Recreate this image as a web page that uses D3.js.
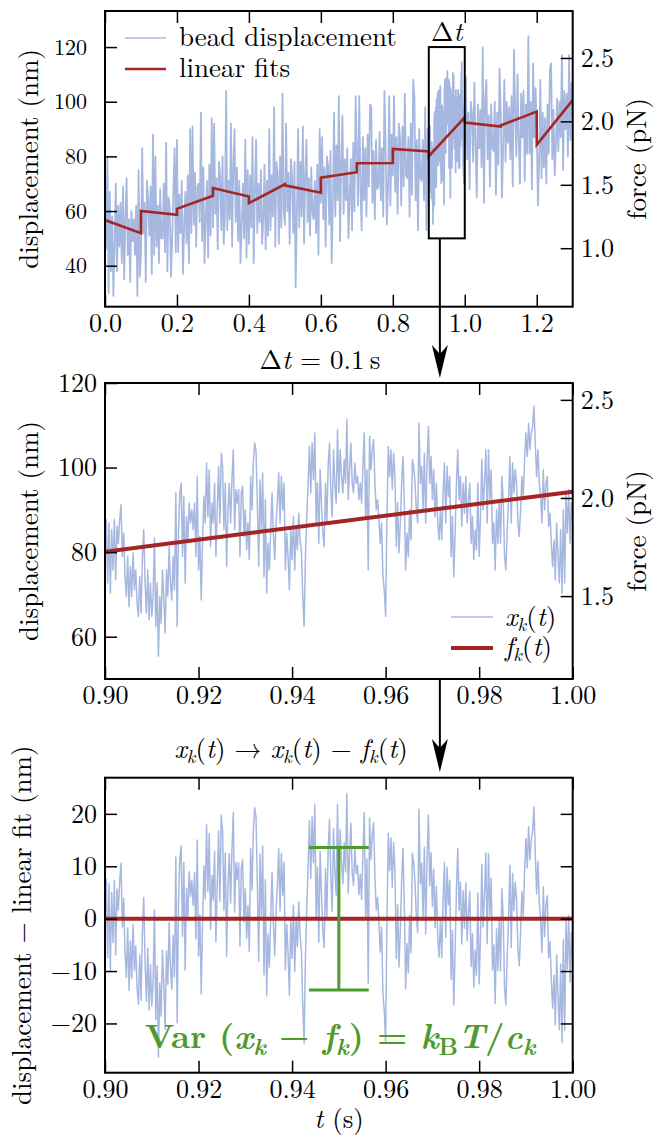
<!DOCTYPE html>
<html><head><meta charset="utf-8">
<script src="https://cdn.jsdelivr.net/npm/d3@7"></script>
<style>body{margin:0;background:#fff} text{font-family:'Latin Modern Roman','Times'}</style>
</head><body>
<svg id="c" width="661" height="1147"></svg>
<script>
// ---------------- DATA ----------------
// overview trace, 0 … 0.8967 s, six readings per 20 ms (nm)
const topStep = 0.02 / 6;
const topTraceA = [
 61,46,80,30,67,38, 58,29,48,70,38,62, 47,63,41,69,35,58, 72,44,57,34,60,49, 57,44,62,29,75,36,
 44,83,52,63,34,71, 64,51,69,37,88,44, 80,47,62,41,68,50, 50,70,45,85,38,65, 62,36,49,67,83,45,
 86,45,66,52,71,37, 54,67,48,73,41,90, 52,91,55,74,47,69, 70,56,96,49,76,41, 57,71,43,77,51,94,
 54,92,59,72,46,78, 73,53,80,48,58,104, 53,71,57,92,47,77, 90,56,76,49,71,41, 55,70,50,86,43,75,
 48,73,54,87,41,68, 86,52,70,56,75,48, 57,77,46,71,51,90, 53,73,58,98,47,78, 74,48,80,54,103,60,
 55,92,60,74,48,79, 73,52,78,32,59,90, 54,78,58,91,48,73, 86,56,72,51,76,59, 57,71,52,77,44,90,
 63,87,57,76,47,80, 77,55,82,41,63,96, 58,84,64,102,49,78, 95,59,79,64,83,50, 65,79,53,85,60,102,
 82,62,102,68,53,87, 64,83,58,88,69,99, 98,63,82,57,86,68, 69,89,64,83,58,104, 83,55,68,102,62,88,
 73,102,67,87,59,92, 87,62,91,69,103,73, 72,87,58,92,66,108, 102,64,86,53,90,72, 71,86,64,98,53,90
];
// overview trace, 1.0 … 1.3 s, six readings per 20 ms (nm)
const topTraceB = [
 84,109,79,96,68,100, 96,78,107,84,65,99, 83,97,76,120,63,101, 108,79,95,69,99,83, 82,100,66,96,77,112,
 96,65,84,108,78,100, 85,98,79,102,69,119, 98,80,110,86,70,103, 87,104,71,99,81,124, 81,100,68,114,87,105,
 91,62,78,108,72,96, 76,94,70,99,81,112, 114,79,97,73,84,101, 82,100,87,117,75,104, 90,103,80,117,86,107, 95
];
// zoomed trace x_k(t), 0.90 … 1.00 s, 351 samples (nm)
const zoomStart = 0.9, zoomStep = 0.1 / 350;
const zoomDisplacement = [
 80.2,87.7,72.7,86.9,70.3,85.3,75.8,87.7,73.5,86.1,
 82.1,87.7,91.2,79.0,84.5,74.2,69.5,79.0,67.1,76.6,
 69.5,79.8,71.1,75.8,67.9,64.8,74.2,65.6,79.0,85.3,
 72.7,65.6,75.8,64.0,72.7,64.8,69.5,83.3,62.4,72.7,
 55.3,69.5,63.2,75.8,69.5,60.8,75.8,69.5,81.3,72.7,
 68.7,79.0,71.1,94.0,62.4,85.3,94.0,96.3,79.0,93.2,
 72.7,88.4,82.9,91.6,86.9,90.0,85.3,91.6,79.0,97.9,
 75.8,83.7,68.7,82.1,93.2,86.9,101.1,88.4,99.5,81.3,
 91.6,86.9,96.3,79.0,90.0,100.3,86.9,103.4,100.3,85.3,
 96.3,76.6,90.0,96.3,86.9,97.1,104.2,85.3,94.8,91.6,
 94.8,79.0,94.0,95.5,83.7,90.0,80.6,86.9,78.2,97.9,
 90.0,101.1,105.8,104.2,91.6,76.6,97.1,85.3,98.7,74.2,
 92.4,
 70.3,82.1,75.8,85.3,94.0,84.5,78.2,86.9,91.6,98.7,
 86.9,97.9,90.0,96.3,75.8,84.5,79.0,71.1,85.3,78.2,
 88.4,75.8,86.1,80.6,89.2,82.9,79.8,69.5,62.4,79.0,
 88.4,96.3,105.0,94.0,105.8,97.1,108.2,86.9,96.3,82.1,
 99.5,91.6,84.5,81.3,96.3,86.9,100.3,105.8,94.8,88.4,
 104.2,96.3,91.6,109.0,94.0,104.2,97.9,94.0,101.9,96.3,
 111.3,92.4,99.5,105.8,96.3,94.0,101.1,96.3,97.9,92.4,
 96.3,91.6,100.3,108.2,88.4,99.5,75.8,107.4,99.5,104.2,
 106.6,96.3,90.0,92.4,87.7,82.1,86.9,74.2,71.1,64.8,
 88.4,105.0,97.9,104.2,94.8,103.4,97.9,81.3,91.6,79.8,
 86.9,96.3,102.6,91.6,75.8,84.5,79.0,90.0,82.9,101.9,
 100.3,96.3,90.0,86.9,110.5,96.3,
 100.3,90.0,103.4,86.9,101.1,109.7,96.3,102.6,92.4,99.5,
 88.4,96.3,86.9,82.9,90.0,82.9,94.0,101.1,86.9,100.3,
 93.2,97.9,79.0,88.4,74.2,84.5,96.3,104.2,92.4,97.9,
 86.1,96.3,89.2,97.9,86.9,92.4,96.3,82.1,88.4,78.2,
 85.3,80.6,96.3,79.0,88.4,101.9,90.0,96.3,104.2,86.9,
 104.2,92.4,99.5,82.1,86.9,75.8,90.0,82.1,92.4,82.1,
 97.9,92.4,79.0,75.8,85.3,92.4,102.6,86.9,101.1,94.0,
 99.5,96.3,86.9,83.7,90.0,97.9,93.2,101.9,108.2,102.6,
 110.5,104.2,108.2,109.7,114.5,105.8,97.9,104.2,96.3,93.2,
 86.9,99.5,90.0,96.3,97.9,86.1,89.2,82.1,76.6,82.9,
 73.5,86.9,79.0,72.7,85.3,70.3,90.0,72.7,94.0,84.5,
 94.8,82.1,91.6,86.9
];
// piecewise linear fits (one per 0.1 s window)
const fitWindowStarts = [0,0.1,0.2,0.3,0.4,0.5,0.6,0.7,0.8,0.9,1.0,1.1,1.2];
const fitStartValues  = [56.7,60.0,60.8,68.4,62.9,69.4,72.2,77.5,82.7,80.1,92.4,91.3,84.2];
const fitEndValues    = [51.9,58.6,65.6,65.3,69.8,66.7,74.2,77.6,81.8,94.3,90.9,96.4,100.6];
const fitWindow = 0.1;
const zoomFitIndex = 9;
const forcePerNm = 0.02155;          // pN per nm (right axis)
const topDispDomain  = [25, 133.2];
const zoomDispDomain = [50, 120];
const residDomain    = [-29.4, 26.9];
const topXTicks  = [0,0.2,0.4,0.6,0.8,1.0,1.2];
const topYTicks  = [40,60,80,100,120];
const topFTicks  = [1.0,1.5,2.0,2.5];
const zoomXTicks = [0.90,0.92,0.94,0.96,0.98,1.00];
const zoomYTicks = [60,80,100,120];
const zoomFTicks = [1.5,2.0,2.5];
const residTicks = [-20,-10,0,10,20];
const varianceHalfWidth = 13.6;   // nm
const varianceTime = 0.95;
const capHalf = 0.0064;

// ---------------- DRAWING ----------------
const W=661,H=1147;
const SERIF="'Latin Modern Roman','Times'";
const BLUE='#a7b8e0', RED='#a52525', GREEN='#4f9a2d';
const svg=d3.select('#c');
svg.append('rect').attr('width',W).attr('height',H).attr('fill','#fff');
const L=105, R=572.7;
const P={top:[11,306.7], mid:[383,679], bot:[777.7,1072.7]};

const xT=d3.scaleLinear([0,1.3],[L,R]);
const yT=d3.scaleLinear(topDispDomain,[P.top[1],P.top[0]]);
const fT=d3.scaleLinear(topDispDomain.map(v=>v*forcePerNm),[P.top[1],P.top[0]]);
const xM=d3.scaleLinear([0.9,1.0],[L,R]);
const yM=d3.scaleLinear(zoomDispDomain,[P.mid[1],P.mid[0]]);
const fM=d3.scaleLinear(zoomDispDomain.map(v=>v*forcePerNm),[P.mid[1],P.mid[0]]);
const xB=d3.scaleLinear([0.9,1.0],[L,R]);
const yB=d3.scaleLinear(residDomain,[P.bot[1],P.bot[0]]);

const defs=svg.append('defs');
Object.entries(P).forEach(([k,[a,b]])=>{
  defs.append('clipPath').attr('id','clip-'+k).append('rect')
    .attr('x',L).attr('y',a).attr('width',R-L).attr('height',b-a);
});

function rich(g,x,y,parts,o){
  const size=o.size;
  const t=g.append('text').attr('x',x).attr('y',y).attr('xml:space','preserve')
    .style('font-family',SERIF).attr('font-size',size).attr('text-anchor',o.anchor||'start')
    .attr('fill',o.fill||'#000').attr('font-weight',o.weight||'normal');
  let shift=0;
  parts.forEach(p=>{
    const target=p.sub? size*0.2:0;
    const ts=t.append('tspan').text(p.t).attr('dy',target-shift);
    shift=target;
    if(p.sub) ts.attr('font-size',size*0.7);
    if(p.i) ts.attr('font-style','italic');
  });
  return t;
}
function styleAxis(g,fs){
  g.select('.domain').remove();
  g.attr('font-size',fs).attr('font-family',null);
  g.selectAll('line').attr('stroke','#000').attr('stroke-width',1.5);
  g.selectAll('text').attr('fill','#000').style('font-family',SERIF);
}
function axes(xs,ys,yTicks,yFmt,xTicks,xFmt,y0,y1,opt){
  svg.append('g').attr('transform',`translate(0,${y1})`)
    .call(d3.axisBottom(xs).tickValues(xTicks).tickFormat(d3.format(xFmt)).tickSize(-12).tickPadding(7))
    .call(g=>styleAxis(g,26));
  svg.append('g').attr('transform',`translate(0,${y0})`)
    .call(d3.axisTop(xs).tickValues(xTicks).tickFormat('').tickSize(-12))
    .call(g=>styleAxis(g,26));
  svg.append('g').attr('transform',`translate(${L},0)`)
    .call(d3.axisLeft(ys).tickValues(yTicks).tickFormat(d3.format(yFmt)).tickSize(-12).tickPadding(opt.leftPad))
    .call(g=>styleAxis(g,opt.leftSize));
}
function frame(y0,y1){
  svg.append('rect').attr('x',L).attr('y',y0).attr('width',R-L).attr('height',y1-y0)
    .attr('fill','none').attr('stroke','#000').attr('stroke-width',2);
}
function ylabel(x,yc,txt){
  svg.append('text').attr('transform',`translate(${x},${yc}) rotate(-90)`)
    .attr('text-anchor','middle').style('font-family',SERIF).attr('font-size',27)
    .attr('fill','#000').text(txt);
}

// ---- top panel ----
const topData=[
  ...topTraceA.map((v,i)=>[i*topStep,v]),
  ...zoomDisplacement.map((v,i)=>[zoomStart+i*zoomStep,v]),
  ...topTraceB.map((v,i)=>[1.0+i*topStep,v])
];
const fitPts=[];
fitWindowStarts.forEach((t0,k)=>{fitPts.push([t0,fitStartValues[k]]);fitPts.push([t0+fitWindow,fitEndValues[k]]);});
const gTop=svg.append('g').attr('clip-path','url(#clip-top)');
gTop.append('path').attr('d',d3.line().x(d=>xT(d[0])).y(d=>yT(d[1]))(topData))
  .attr('fill','none').attr('stroke',BLUE).attr('stroke-width',1.8).attr('stroke-linejoin','round');
gTop.append('path').attr('d',d3.line().x(d=>xT(d[0])).y(d=>yT(d[1]))(fitPts))
  .attr('fill','none').attr('stroke',RED).attr('stroke-width',2.6).attr('stroke-linejoin','miter');
axes(xT,yT,topYTicks,'d',topXTicks,'.1f',P.top[0],P.top[1],{leftPad:18,leftSize:22});
svg.append('g').attr('transform',`translate(${R},0)`)
  .call(d3.axisRight(fT).tickValues(topFTicks).tickFormat(d3.format('.1f')).tickSize(-12).tickPadding(8))
  .call(g=>styleAxis(g,26));
frame(P.top[0],P.top[1]);
// legend
svg.append('line').attr('x1',125).attr('x2',166).attr('y1',38).attr('y2',38).attr('stroke',BLUE).attr('stroke-width',1.3);
svg.append('line').attr('x1',125).attr('x2',166).attr('y1',69).attr('y2',69).attr('stroke',RED).attr('stroke-width',2.6);
svg.append('text').attr('x',179).attr('y',46).style('font-family',SERIF).attr('font-size',27).text('bead displacement');
svg.append('text').attr('x',179).attr('y',77).style('font-family',SERIF).attr('font-size',27).text('linear fits');
ylabel(38,(P.top[0]+P.top[1])/2,'displacement (nm)');
ylabel(646,(P.top[0]+P.top[1])/2,'force (pN)');
// Δt box
const bx0=xT(fitWindowStarts[zoomFitIndex]), bx1=xT(fitWindowStarts[zoomFitIndex]+fitWindow);
const by0=yT(zoomDispDomain[1]), by1=yT(zoomDispDomain[0]);
svg.append('rect').attr('x',bx0).attr('y',by0).attr('width',bx1-bx0).attr('height',by1-by0)
  .attr('fill','none').attr('stroke','#000').attr('stroke-width',2);
rich(svg,(bx0+bx1)/2,41,[{t:'Δ'},{t:'t',i:true}],{size:27,anchor:'middle'});

// arrows
const ax=xM(0.9716);
function arrow(yStart,yTip){
  svg.append('line').attr('x1',ax).attr('x2',ax).attr('y1',yStart).attr('y2',yTip-12).attr('stroke','#000').attr('stroke-width',2);
  svg.append('path').attr('d',`M${ax},${yTip} L${ax-8},${yTip-33} L${ax},${yTip-24} L${ax+8},${yTip-33} Z`).attr('fill','#000');
}
arrow(by1,378);
rich(svg,320,369,[{t:'Δ'},{t:'t',i:true},{t:' = 0.1\u2009s'}],{size:27,anchor:'middle'});

// ---- middle panel ----
const zoomPts=zoomDisplacement.map((v,i)=>[zoomStart+i*zoomStep,v]);
const fs=fitStartValues[zoomFitIndex], fe=fitEndValues[zoomFitIndex];
const fitAt=t=>fs+(fe-fs)*(t-zoomStart)/fitWindow;
const gMid=svg.append('g').attr('clip-path','url(#clip-mid)');
gMid.append('path').attr('d',d3.line().x(d=>xM(d[0])).y(d=>yM(d[1]))(zoomPts))
  .attr('fill','none').attr('stroke',BLUE).attr('stroke-width',1.5).attr('stroke-linejoin','round');
gMid.append('line').attr('x1',xM(0.9)).attr('x2',xM(1.0)).attr('y1',yM(fitAt(0.9))).attr('y2',yM(fitAt(1.0)))
  .attr('stroke',RED).attr('stroke-width',4);
axes(xM,yM,zoomYTicks,'d',zoomXTicks,'.2f',P.mid[0],P.mid[1],{leftPad:8,leftSize:26});
svg.append('g').attr('transform',`translate(${R},0)`)
  .call(d3.axisRight(fM).tickValues(zoomFTicks).tickFormat(d3.format('.1f')).tickSize(-12).tickPadding(8))
  .call(g=>styleAxis(g,26));
frame(P.mid[0],P.mid[1]);
ylabel(38,(P.mid[0]+P.mid[1])/2,'displacement (nm)');
ylabel(646,(P.mid[0]+P.mid[1])/2,'force (pN)');
svg.append('line').attr('x1',451).attr('x2',493).attr('y1',617).attr('y2',617).attr('stroke',BLUE).attr('stroke-width',1.5);
svg.append('line').attr('x1',451).attr('x2',493).attr('y1',648).attr('y2',648).attr('stroke',RED).attr('stroke-width',4);
rich(svg,505,626,[{t:'x',i:true},{t:'k',i:true,sub:true},{t:'('},{t:'t',i:true},{t:')'}],{size:27});
rich(svg,505,656,[{t:'f',i:true},{t:'k',i:true,sub:true},{t:'('},{t:'t',i:true},{t:')'}],{size:27});

arrow(P.mid[1],772);
rich(svg,291,758,[{t:'x',i:true},{t:'k',i:true,sub:true},{t:'('},{t:'t',i:true},{t:')\u2004→\u2004'},
  {t:'x',i:true},{t:'k',i:true,sub:true},{t:'('},{t:'t',i:true},{t:')\u2004−\u2004'},
  {t:'f',i:true},{t:'k',i:true,sub:true},{t:'('},{t:'t',i:true},{t:')'}],{size:27,anchor:'middle'});

// ---- bottom panel ----
const residPts=zoomPts.map(([t,v])=>[t,v-fitAt(t)]);
const gBot=svg.append('g').attr('clip-path','url(#clip-bot)');
gBot.append('path').attr('d',d3.line().x(d=>xB(d[0])).y(d=>yB(d[1]))(residPts))
  .attr('fill','none').attr('stroke',BLUE).attr('stroke-width',1.5).attr('stroke-linejoin','round');
gBot.append('line').attr('x1',xB(0.9)).attr('x2',xB(1.0)).attr('y1',yB(0)).attr('y2',yB(0))
  .attr('stroke',RED).attr('stroke-width',4);
// variance bar
const eg=svg.append('g').attr('stroke',GREEN).attr('stroke-width',3);
eg.append('line').attr('x1',xB(varianceTime)).attr('x2',xB(varianceTime)).attr('y1',yB(varianceHalfWidth)).attr('y2',yB(-varianceHalfWidth));
[varianceHalfWidth,-varianceHalfWidth].forEach(v=>{
  eg.append('line').attr('x1',xB(varianceTime-capHalf)).attr('x2',xB(varianceTime+capHalf)).attr('y1',yB(v)).attr('y2',yB(v));
});
rich(svg,340,1048,[{t:'Var ('},{t:'x',i:true},{t:'k',i:true,sub:true},{t:' − '},{t:'f',i:true},{t:'k',i:true,sub:true},
  {t:') = '},{t:'k',i:true},{t:'B',sub:true},{t:'T',i:true},{t:'/'},{t:'c',i:true},{t:'k',i:true,sub:true}],
  {size:34,anchor:'middle',fill:GREEN,weight:'bold'});
axes(xB,yB,residTicks,'d',zoomXTicks,'.2f',P.bot[0],P.bot[1],{leftPad:8,leftSize:26});
svg.append('g').attr('transform',`translate(${R},0)`)
  .call(d3.axisRight(yB).tickValues(residTicks).tickFormat('').tickSize(-12))
  .call(g=>styleAxis(g,26));
frame(P.bot[0],P.bot[1]);
ylabel(31,(P.bot[0]+P.bot[1])/2,'displacement − linear fit (nm)');
rich(svg,339,1128,[{t:'t',i:true},{t:' (s)'}],{size:27,anchor:'middle'});
</script>
</body></html>
